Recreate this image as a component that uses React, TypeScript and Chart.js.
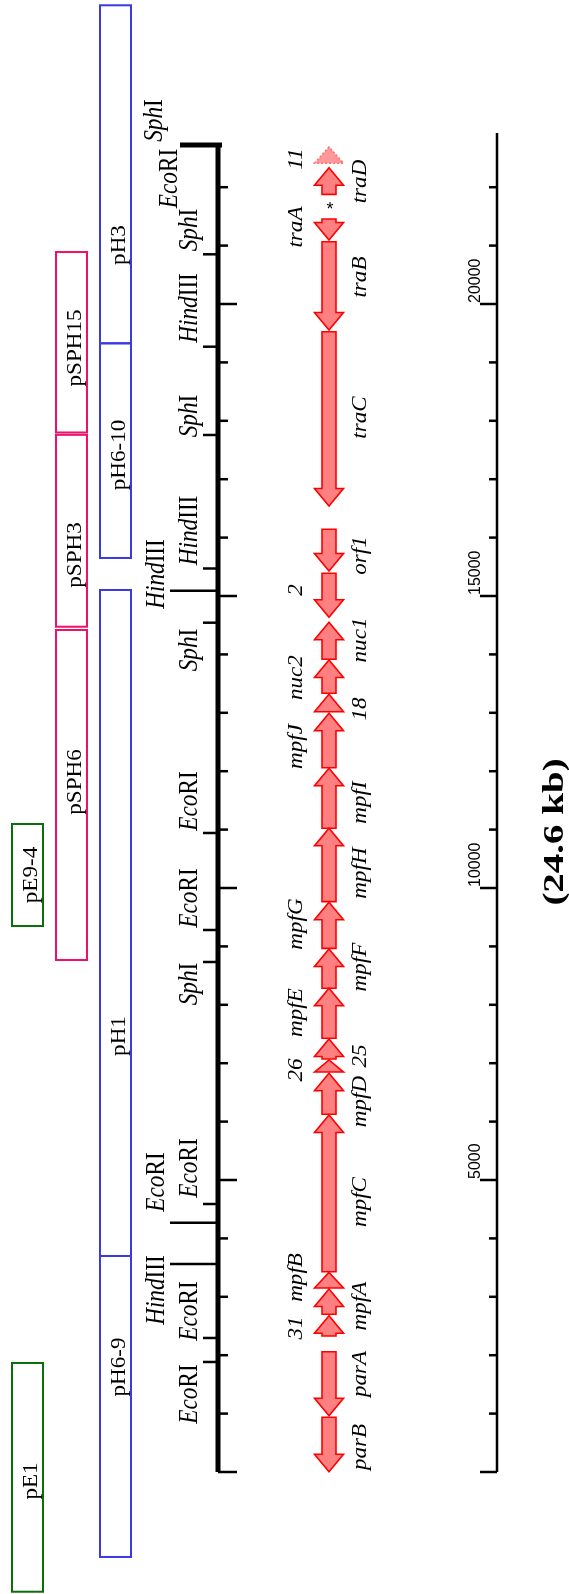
import React, { useEffect, useRef } from "react";
import { Chart, registerables } from "chart.js";

Chart.register(...registerables);

// ------------------------------------------------------------------
// DATA (positions in bp along the 24.6 kb map)
// ------------------------------------------------------------------

// restriction sites on the map axis
const siteEnzymes = ["EcoRI", "SphI", "SphI", "HindIII", "SphI", "HindIII", "HindIII", "SphI", "EcoRI", "EcoRI", "SphI", "EcoRI", "EcoRI", "HindIII", "EcoRI", "EcoRI"];
const sitePositions = [22723, 22723, 20851, 19269, 17757, 15471, 15091, 14543, 10942, 9281, 8733, 4589, 4269, 3562, 2295, 1884];
const siteMarks = ["cap", "none", "short", "short", "short", "short", "long", "short", "short", "short", "short", "short", "long", "long", "short", "short"];
const siteLabelAt = [22149, 23142, 21267, 19932, 18082, 16122, 15377, 14075, 11490, 9829, 8356, 5205, 4966, 3116, 2757, 1336];

// genes (arrow drawn from geneFrom to geneTo, tip at geneTo)
const geneNames = ["11", "traD", "traA", "traB", "traC", "orf1", "2", "nuc1", "nuc2", "18", "mpfJ", "mpfI", "mpfH", "mpfG", "mpfF", "mpfE", "25", "26", "mpfD", "mpfC", "mpfB", "mpfA", "31", "parA", "parB"];
const geneFrom = [22409, 21878, 21455, 21067, 19526, 16142, 15389, 13916, 13334, 13019, 12060, 11022, 9766, 8967, 8283, 7426, 7072, 6849, 6125, 3430, 3151, 2700, 2329, 2060, 937];
const geneTo = [22688, 22334, 21096, 19555, 16541, 15428, 14635, 14550, 13904, 13317, 12992, 12050, 11022, 9755, 8955, 8283, 7414, 7055, 6827, 6113, 3419, 3134, 2676, 964, 5];
const geneLabelSide = ["L", "R", "L", "R", "R", "R", "L", "R", "L", "R", "L", "R", "R", "L", "R", "L", "R", "L", "R", "R", "L", "R", "L", "R", "R"];
const geneLabelAt = [22483, 22098, 21318, 20462, 18056, 15694, 15103, 14247, 13604, 13065, 12423, 11464, 10257, 9384, 8647, 7868, 7123, 6883, 6344, 4623, 3331, 2842, 2466, 1678, 428];
const geneFaded = ["11"];
const markerText = "*";
const markerAt = 21666;

// clones
const cloneNames = ["pH3", "pH6-10", "pH1", "pH6-9", "pSPH15", "pSPH3", "pSPH6", "pE9-4", "pE1"];
const cloneTrack = ["H", "H", "H", "H", "SPH", "SPH", "SPH", "E", "E"];
const cloneTop = [25115, 19327, 15103, 3699, 20890, 17760, 14418, 11096, 1867];
const cloneBottom = [19327, 15651, 3699, -1455, 17800, 14474, 8767, 9349, -2050];
const cloneLabelAt = [21010, 17414, 7466, 1798, 19247, 15702, 11815, 10222, -154];

// ruler
const mapEnd = 22723;
const rulerEnd = 22928;
const tickStep = 1000;
const majorStep = 5000;
const rulerLabels = ["5000", "10000", "15000", "20000"];
const rulerLabelValues = [5000, 10000, 15000, 20000];
const title = "(24.6 kb)";
const titleAt = 10960;

// ------------------------------------------------------------------
// LAYOUT / STYLE
// ------------------------------------------------------------------
const CANVAS_W = 569;
const CANVAS_H = 1594;
const Y_MIN = -2089;
const Y_MAX = 25205.5;

const SERIF = "'Liberation Serif', 'Times New Roman', serif";
const SANS = "'Liberation Sans', Arial, sans-serif";

const L = {
  lanes: {
    E: { x0: 12, x1: 43, color: "#0a6e0a" },
    SPH: { x0: 56, x1: 87, color: "#f0106a" },
    H: { x0: 100, x1: 131, color: "#3a3ae0" },
  } as Record<string, { x0: number; x1: number; color: string }>,
  axisX: 218,
  axisW: 5,
  tickW: 2.5,
  axisTickShort: 228,
  axisTickLong: 237,
  siteTickEnd: { short: 203, long: 170, cap: 180, none: 218 } as Record<string, number>,
  siteLabelX: { short: 197, long: 164, cap: 177, none: 162 } as Record<string, number>,
  geneX: 329,
  shaftHalf: 7,
  headHalf: 14.5,
  headLen: 17.5,
  geneLabelLeftX: 302,
  geneLabelRightX: 366,
  rulerX: 497,
  rulerW: 2.5,
  rulerTickMinor: 489,
  rulerTickMajor: 480,
  rulerLabelX: 480,
  titleX: 563,
};

type Seg = { text: string; italic?: boolean };

function enzymeSegs(name: string): Seg[] {
  const m = name.match(/^([A-Z][a-z]+)([A-Z]+)$/);
  if (!m) return [{ text: name, italic: true }];
  return [
    { text: m[1], italic: true },
    { text: m[2], italic: false },
  ];
}

function drawVText(
  ctx: CanvasRenderingContext2D,
  x: number,
  y: number,
  segs: Seg[],
  size: number,
  family: string,
  stretch: number,
  align: "start" | "center" | "end",
  weight = "normal"
) {
  ctx.save();
  ctx.translate(x, y);
  ctx.rotate(-Math.PI / 2);
  ctx.scale(stretch, 1);
  ctx.textBaseline = "alphabetic";
  ctx.textAlign = "left";
  ctx.fillStyle = "#000";
  const fonts = segs.map((s) => `${s.italic ? "italic " : ""}${weight} ${size}px ${family}`);
  const widths = segs.map((s, i) => {
    ctx.font = fonts[i];
    return ctx.measureText(s.text).width;
  });
  const total = widths.reduce((a, b) => a + b, 0);
  let pos = align === "center" ? -total / 2 : align === "end" ? -total : 0;
  segs.forEach((s, i) => {
    ctx.font = fonts[i];
    ctx.fillText(s.text, pos, 0);
    pos += widths[i];
  });
  ctx.restore();
}

const mapPlugin = {
  id: "geneticMap",
  beforeDraw(chart: any) {
    const ctx = chart.ctx as CanvasRenderingContext2D;
    ctx.save();
    ctx.fillStyle = "#fff";
    ctx.fillRect(0, 0, chart.width, chart.height);
    ctx.restore();
  },
  afterDraw(chart: any) {
    const ctx = chart.ctx as CanvasRenderingContext2D;
    const sx = chart.scales.x;
    const sy = chart.scales.y;
    const X = (v: number) => sx.getPixelForValue(v);
    const Y = (v: number) => sy.getPixelForValue(v);

    ctx.save();
    ctx.lineCap = "butt";

    // clones
    cloneNames.forEach((name, i) => {
      const lane = L.lanes[cloneTrack[i]];
      const x0 = X(lane.x0);
      const x1 = X(lane.x1);
      const y0 = Y(cloneTop[i]);
      const y1 = Y(cloneBottom[i]);
      ctx.strokeStyle = lane.color;
      ctx.lineWidth = 2;
      ctx.strokeRect(x0, y0, x1 - x0, y1 - y0);
      drawVText(ctx, x1 - 6, Y(cloneLabelAt[i]), [{ text: name }], 21, SERIF, 1.1, "center");
    });

    // main map axis
    ctx.strokeStyle = "#000";
    ctx.lineWidth = L.axisW;
    ctx.beginPath();
    ctx.moveTo(X(L.axisX), Y(0));
    ctx.lineTo(X(L.axisX), Y(mapEnd));
    ctx.stroke();

    // kb ticks on the map axis (right side)
    ctx.lineWidth = L.tickW;
    for (let v = 0; v <= mapEnd; v += tickStep) {
      const end = v % majorStep === 0 ? L.axisTickLong : L.axisTickShort;
      ctx.beginPath();
      ctx.moveTo(X(L.axisX), Y(v));
      ctx.lineTo(X(end), Y(v));
      ctx.stroke();
    }

    // restriction sites
    siteEnzymes.forEach((enz, i) => {
      const kind = siteMarks[i];
      if (kind !== "none") {
        ctx.lineWidth = kind === "cap" ? L.axisW : L.tickW;
        ctx.beginPath();
        ctx.moveTo(X(kind === "cap" ? L.axisX + 4 : L.axisX), Y(sitePositions[i]));
        ctx.lineTo(X(L.siteTickEnd[kind]), Y(sitePositions[i]));
        ctx.stroke();
      }
      drawVText(ctx, X(L.siteLabelX[kind]), Y(siteLabelAt[i]), enzymeSegs(enz), 27, SERIF, 0.86, "center");
    });

    // genes
    geneNames.forEach((g, i) => {
      const cx = X(L.geneX);
      const y0 = Y(geneFrom[i]);
      const y1 = Y(geneTo[i]);
      const dir = Math.sign(y1 - y0);
      const len = Math.abs(y1 - y0);
      const faded = geneFaded.includes(g);
      ctx.beginPath();
      if (len <= L.headLen) {
        ctx.moveTo(cx - L.headHalf, y0);
        ctx.lineTo(cx, y1);
        ctx.lineTo(cx + L.headHalf, y0);
        ctx.closePath();
      } else {
        const hb = y1 - dir * L.headLen;
        ctx.moveTo(cx - L.shaftHalf, y0);
        ctx.lineTo(cx - L.shaftHalf, hb);
        ctx.lineTo(cx - L.headHalf, hb);
        ctx.lineTo(cx, y1);
        ctx.lineTo(cx + L.headHalf, hb);
        ctx.lineTo(cx + L.shaftHalf, hb);
        ctx.lineTo(cx + L.shaftHalf, y0);
        ctx.closePath();
      }
      ctx.fillStyle = faded ? "rgba(255,128,128,0.8)" : "#ff8080";
      ctx.fill();
      ctx.strokeStyle = faded ? "#ff7070" : "#ff0000";
      ctx.lineWidth = 1.6;
      ctx.setLineDash(faded ? [2, 2] : []);
      ctx.lineJoin = "miter";
      ctx.stroke();
      ctx.setLineDash([]);

      const lx = geneLabelSide[i] === "L" ? L.geneLabelLeftX : L.geneLabelRightX;
      drawVText(ctx, X(lx), Y(geneLabelAt[i]), [{ text: g, italic: true }], 22, SERIF, 1.05, "center");
    });

    // marker between traA and traD
    ctx.fillStyle = "#000";
    ctx.font = `18px ${SANS}`;
    ctx.textAlign = "center";
    ctx.textBaseline = "middle";
    ctx.fillText(markerText, X(L.geneX + 1), Y(markerAt) + 3);

    // ruler
    ctx.strokeStyle = "#000";
    ctx.lineWidth = L.rulerW;
    ctx.beginPath();
    ctx.moveTo(X(L.rulerX), Y(0));
    ctx.lineTo(X(L.rulerX), Y(rulerEnd));
    ctx.stroke();
    ctx.lineWidth = L.tickW;
    for (let v = 0; v <= rulerEnd; v += tickStep) {
      const end = v % majorStep === 0 ? L.rulerTickMajor : L.rulerTickMinor;
      ctx.beginPath();
      ctx.moveTo(X(L.rulerX), Y(v));
      ctx.lineTo(X(end), Y(v));
      ctx.stroke();
    }
    rulerLabels.forEach((t, i) => {
      drawVText(ctx, X(L.rulerLabelX), Y(rulerLabelValues[i]) - 1, [{ text: t }], 16, SANS, 1.0, "start");
    });

    // total size
    drawVText(ctx, X(L.titleX), Y(titleAt), [{ text: title }], 30, SERIF, 1.3, "center", "bold");

    ctx.restore();
  },
};

export default function App() {
  const ref = useRef<HTMLCanvasElement | null>(null);
  useEffect(() => {
    document.body.style.margin = "0";
    const canvas = ref.current;
    if (!canvas) return;
    const chart = new Chart(canvas, {
      type: "scatter",
      data: { datasets: [] },
      options: {
        animation: false,
        responsive: false,
        devicePixelRatio: 1,
        layout: { padding: 0 },
        plugins: { legend: { display: false }, tooltip: { enabled: false } },
        scales: {
          x: { type: "linear", min: 0, max: CANVAS_W, display: false },
          y: { type: "linear", min: Y_MIN, max: Y_MAX, display: false },
        },
      },
      plugins: [mapPlugin],
    } as any);
    return () => chart.destroy();
  }, []);
  return (
    <canvas
      ref={ref}
      width={CANVAS_W}
      height={CANVAS_H}
      style={{ display: "block", width: CANVAS_W, height: CANVAS_H }}
    />
  );
}
